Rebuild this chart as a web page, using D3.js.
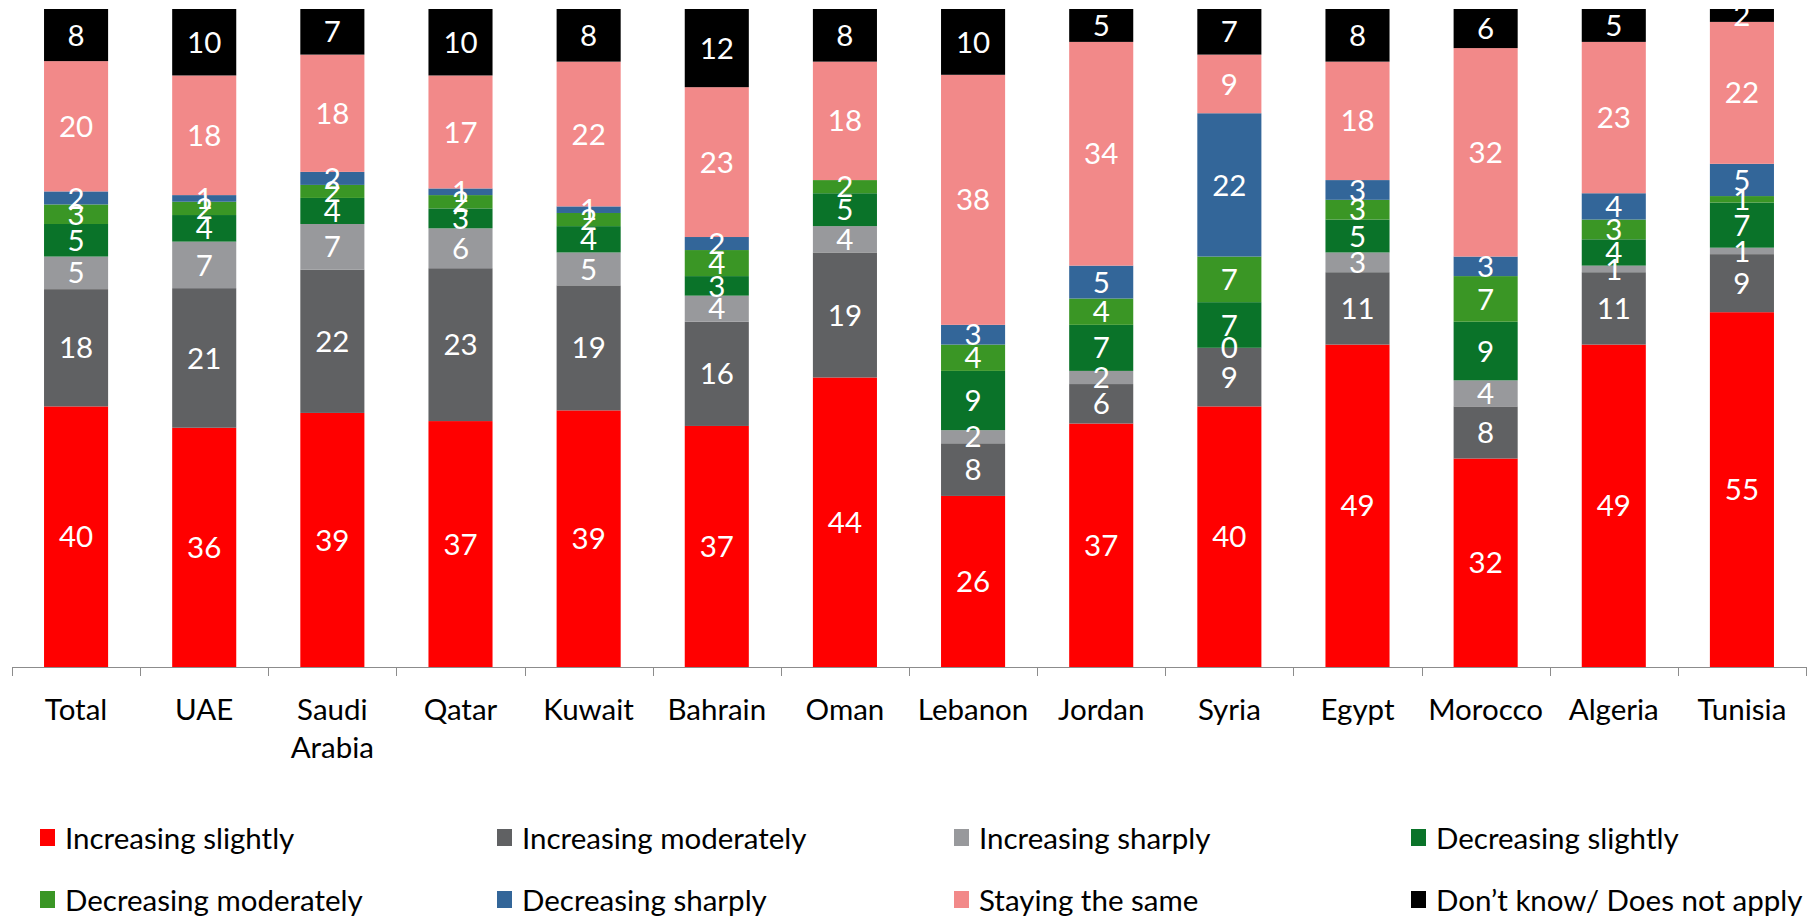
<!DOCTYPE html>
<html>
<head>
<meta charset="utf-8">
<script src="https://cdn.jsdelivr.net/npm/d3@7"></script>
<style>
  body { margin: 0; background: #fff; }
  text { font-family: Lato, "Open Sans", sans-serif; }
</style>
</head>
<body>
<div id="chart"></div>
<script>
// countries, left to right
var countries = ["Total", "UAE", "Saudi Arabia", "Qatar", "Kuwait", "Bahrain", "Oman",
                 "Lebanon", "Jordan", "Syria", "Egypt", "Morocco", "Algeria", "Tunisia"];

var seriesNames = ["Increasing slightly", "Increasing moderately", "Increasing sharply",
                   "Decreasing slightly", "Decreasing moderately", "Decreasing sharply",
                   "Staying the same", "Don\u2019t know/ Does not apply"];

// one array per series, values per country (null = no label shown)
var increasingSlightly   = [40, 36, 39, 37, 39, 37, 44, 26, 37, 40, 49, 32, 49, 55];
var increasingModerately = [18, 21, 22, 23, 19, 16, 19,  8,  6,  9, 11,  8, 11,  9];
var increasingSharply    = [ 5,  7,  7,  6,  5,  4,  4,  2,  2,  0,  3,  4,  1,  1];
var decreasingSlightly   = [ 5,  4,  4,  3,  4,  3,  5,  9,  7,  7,  5,  9,  4,  7];
var decreasingModerately = [ 3,  2,  2,  2,  2,  4,  2,  4,  4,  7,  3,  7,  3,  1];
var decreasingSharply    = [ 2,  1,  2,  1,  1,  2, null, 3,  5, 22,  3,  3,  4,  5];
var stayingSame          = [20, 18, 18, 17, 22, 23, 18, 38, 34,  9, 18, 32, 23, 22];
var dontKnow             = [ 8, 10,  7, 10,  8, 12,  8, 10,  5,  7,  8,  6,  5,  2];

var seriesValues = [increasingSlightly, increasingModerately, increasingSharply,
                    decreasingSlightly, decreasingModerately, decreasingSharply,
                    stayingSame, dontKnow];

var colors = ["#ff0000", "#606163", "#98999c", "#0a7329", "#3a9625", "#336699", "#f28989", "#000000"];

// build rows for d3.stack
var rows = countries.map(function (c, i) {
    var row = { country: c };
    seriesNames.forEach(function (s, k) { row[s] = seriesValues[k][i]; });
    return row;
});

var W = 1818, H = 917;
var plotTop = 9, plotBottom = 667, plotLeft = 12, plotRight = 1806;
var fontSize = "29.5px";

var svg = d3.select("#chart").append("svg").attr("width", W).attr("height", H);

var x = d3.scaleBand().domain(countries).range([plotLeft, plotRight]).paddingInner(0.5).paddingOuter(0.25);
var y = d3.scaleLinear().domain([0, 1]).range([plotBottom, plotTop]);

var stack = d3.stack()
    .keys(seriesNames)
    .value(function (d, key) { return d[key] == null ? 0 : d[key]; })
    .offset(d3.stackOffsetExpand);
var stacked = stack(rows);

var layer = svg.selectAll("g.layer").data(stacked).enter().append("g")
    .attr("class", "layer")
    .attr("fill", function (d, i) { return colors[i]; });

layer.selectAll("rect").data(function (d) { return d; }).enter().append("rect")
    .attr("x", function (d) { return x(d.data.country); })
    .attr("width", x.bandwidth())
    .attr("y", function (d) { return y(d[1]); })
    .attr("height", function (d) { return y(d[0]) - y(d[1]); });

// value labels
stacked.forEach(function (s) {
    svg.append("g").selectAll("text").data(s.filter(function (d) { return d.data[s.key] != null; }))
        .enter().append("text")
        .attr("x", function (d) { return x(d.data.country) + x.bandwidth() / 2; })
        .attr("y", function (d) { return (y(d[0]) + y(d[1])) / 2; })
        .attr("dy", "0.36em")
        .attr("text-anchor", "middle")
        .attr("fill", "#fff")
        .style("font-size", fontSize)
        .text(function (d) { return d.data[s.key]; });
});

// x axis line with ticks between categories
var axis = svg.append("g").attr("stroke", "#8c8c8c").attr("stroke-width", 1);
axis.append("line").attr("x1", plotLeft).attr("x2", plotRight)
    .attr("y1", plotBottom + 0.5).attr("y2", plotBottom + 0.5);
var tickXs = countries.map(function (c) { return x(c) - x.step() * 0.25; }).concat([plotRight]);
axis.selectAll("line.tick").data(tickXs).enter().append("line")
    .attr("class", "tick")
    .attr("x1", function (d) { return Math.round(d) + 0.5; })
    .attr("x2", function (d) { return Math.round(d) + 0.5; })
    .attr("y1", plotBottom).attr("y2", plotBottom + 9);

// category labels (wrap on spaces)
var catLabel = svg.append("g").selectAll("text").data(countries).enter().append("text")
    .attr("text-anchor", "middle")
    .attr("fill", "#000")
    .style("font-size", fontSize);
catLabel.each(function (c) {
    var t = d3.select(this);
    c.split(" ").forEach(function (word, j) {
        t.append("tspan")
            .attr("x", x(c) + x.bandwidth() / 2)
            .attr("y", 720 + j * 38)
            .text(word);
    });
});

// legend, 2 rows of 4
var legend = svg.append("g").selectAll("g").data(seriesNames).enter().append("g")
    .attr("transform", function (d, i) {
        return "translate(" + (40 + (i % 4) * 457) + "," + (838 + Math.floor(i / 4) * 62) + ")";
    });
legend.append("rect")
    .attr("x", 0).attr("y", -9).attr("width", 15).attr("height", 17)
    .attr("fill", function (d, i) { return colors[i]; });
legend.append("text")
    .attr("x", 25).attr("y", 0).attr("dy", "0.36em")
    .attr("fill", "#000")
    .style("font-size", fontSize)
    .text(function (d) { return d; });
</script>
</body>
</html>
